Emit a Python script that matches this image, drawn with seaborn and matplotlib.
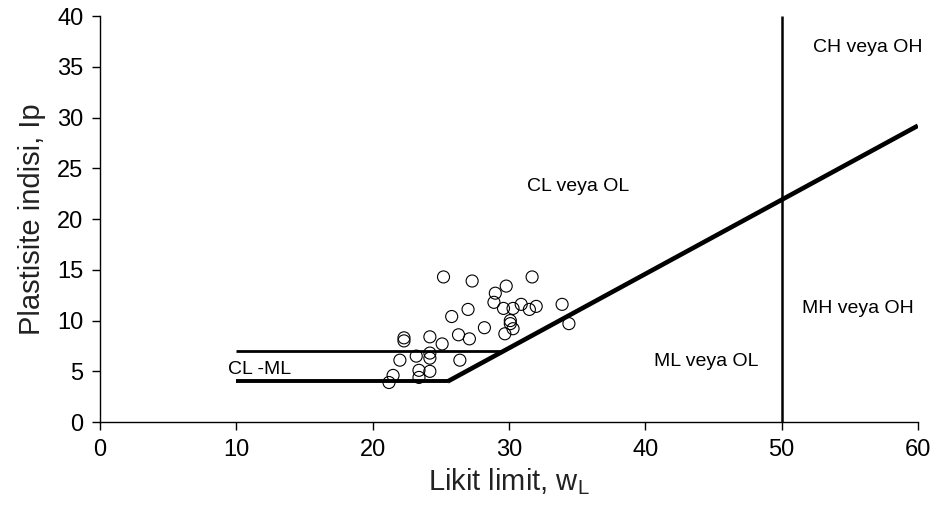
import matplotlib
matplotlib.use("Agg")
import matplotlib.pyplot as plt
import seaborn as sns
import pandas as pd

# Soil samples: liquid limit (wL) and plasticity index (Ip)
liquid_limit = [25.2, 27.3, 31.7, 29.8, 29.0, 28.9, 27.0, 25.8, 29.6, 30.3,
                30.9, 31.5, 32.0, 33.9, 30.1, 30.1, 30.3, 29.7, 34.4, 28.2,
                27.1, 26.3, 25.1, 24.2, 22.3, 22.3, 22.0, 23.2, 24.2, 24.2,
                26.4, 23.4, 24.2, 23.4, 21.5, 21.2]
plasticity_index = [14.3, 13.9, 14.3, 13.4, 12.7, 11.8, 11.1, 10.4, 11.2, 11.2,
                    11.6, 11.1, 11.4, 11.6, 10.0, 9.7, 9.2, 8.7, 9.7, 9.3,
                    8.2, 8.6, 7.7, 8.4, 8.3, 8.0, 6.1, 6.5, 6.8, 6.3,
                    6.1, 5.1, 5.0, 4.4, 4.6, 3.9]

# Classification boundaries of the plasticity chart
a_line_wl = [25.5, 60.0]
a_line_ip = [4.0, 29.2]
low_band_wl = [10.0, 25.5]
low_band_ip = [4.0, 4.0]
high_band_wl = [10.0, 29.6]
high_band_ip = [7.0, 7.0]
wl50_wl = [50.0, 50.0]
wl50_ip = [0.0, 40.0]

# Zone labels: (text, wL, Ip)
zone_labels = [
    ("CL veya OL", 35.1, 23.2),
    ("CH veya OH", 56.3, 36.9),
    ("MH veya OH", 55.6, 11.2),
    ("ML veya OL", 44.5, 6.0),
    ("CL -ML", 11.7, 5.2),
]

x_ticks = [0, 10, 20, 30, 40, 50, 60]
y_ticks = [0, 5, 10, 15, 20, 25, 30, 35, 40]

sns.set_theme(style="white")
plt.rcParams["font.family"] = ["Liberation Sans", "DejaVu Sans"]
plt.rcParams["mathtext.fontset"] = "custom"
plt.rcParams["mathtext.rm"] = "Liberation Sans"
plt.rcParams["mathtext.it"] = "Liberation Sans"

fig = plt.figure(figsize=(9.39, 5.11), dpi=100)
ax = fig.add_axes([0.1065, 0.174, 0.871, 0.7945])

samples = pd.DataFrame({"wL": liquid_limit, "Ip": plasticity_index})


def boundary(xs, ys, lw):
    sns.lineplot(x=xs, y=ys, ax=ax, color="black", linewidth=lw,
                 estimator=None, sort=False, legend=False,
                 solid_capstyle="butt")


boundary(a_line_wl, a_line_ip, 3.3)
boundary(low_band_wl, low_band_ip, 2.8)
boundary(high_band_wl, high_band_ip, 2.0)
boundary(wl50_wl, wl50_ip, 1.8)

sns.scatterplot(data=samples, x="wL", y="Ip", ax=ax, marker="o", s=75,
                facecolor="none", edgecolor="black", linewidth=0.8,
                zorder=3, legend=False)

for text, wl, ip in zone_labels:
    ax.text(wl, ip, text, fontsize=14, ha="center", va="center",
            color="black")

ax.set_xlim(0, 60)
ax.set_ylim(0, 40)
ax.set_xticks(x_ticks)
ax.set_yticks(y_ticks)
ax.tick_params(axis="both", direction="out", length=6, width=1,
               color="black", labelsize=17, labelcolor="black",
               bottom=True, left=True, pad=6)
ax.set_xlabel(r"Likit limit, w$_{\mathrm{L}}$", fontsize=21, color="#222222",
              labelpad=4)
ax.set_ylabel("Plastisite indisi, Ip", fontsize=21, color="#222222",
              labelpad=8)

for side in ("top", "right"):
    ax.spines[side].set_visible(False)
for side in ("left", "bottom"):
    ax.spines[side].set_color("black")
    ax.spines[side].set_linewidth(1.0)

fig.savefig("out.png", dpi=100)
